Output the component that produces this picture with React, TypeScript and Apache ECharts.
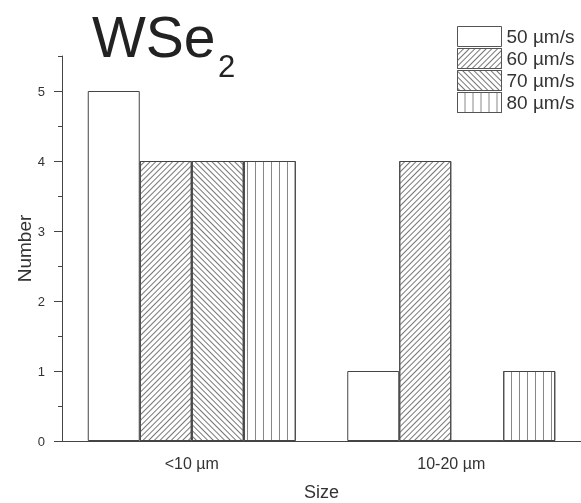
import React, { useEffect, useRef } from "react";
import * as echarts from "echarts";

const categories = ["<10 µm", "10-20 µm"];
const seriesNames = ["50 µm/s", "60 µm/s", "70 µm/s", "80 µm/s"];
const s50 = [5, 1];
const s60 = [4, 4];
const s70 = [4, 0];
const s80 = [4, 1];
const yMajorTicks = [0, 1, 2, 3, 4, 5];
const yMinorTicks = [0.5, 1.5, 2.5, 3.5, 4.5, 5.5];

const FONT = "Liberation Sans, Arial, sans-serif";
const LINE = "#444";

export default function App() {
  const ref = useRef<HTMLDivElement>(null);
  useEffect(() => {
    if (!ref.current) return;
    const chart = echarts.init(ref.current, null, { renderer: "svg" });
    const decals: any[] = [
      null,
      { symbol: "rect", symbolSize: 1, dashArrayX: [1, 0], dashArrayY: [0.8, 2.8], rotation: -Math.PI / 4, color: "#777" },
      { symbol: "rect", symbolSize: 1, dashArrayX: [1, 0], dashArrayY: [0.8, 2.1], rotation: Math.PI / 4, color: "#777" },
      { symbol: "rect", symbolSize: 1, dashArrayX: [1, 0], dashArrayY: [1, 6.6], rotation: Math.PI / 2, color: "#888" },
    ];
    const datas = [s50, s60, s70, s80];
    chart.setOption({
      animation: false,
      textStyle: { fontFamily: FONT },
      grid: { left: 62, right: 0, top: 56, bottom: 62, outerBoundsMode: "none", containLabel: false },
      legend: {
        orient: "vertical",
        left: 457,
        top: 26,
        itemWidth: 44,
        itemHeight: 20,
        itemGap: 1,
        padding: 0,
        icon: "rect",
        itemStyle: { borderWidth: 1, borderColor: "#555" },
        textStyle: { fontSize: 19, color: "#333", fontFamily: FONT },
        data: seriesNames,
      },
      xAxis: {
        type: "category",
        data: categories,
        name: "Size",
        nameLocation: "middle",
        nameGap: 42,
        nameMoveOverlap: false,
        nameTextStyle: { fontSize: 18, color: "#333" },
        axisLine: { lineStyle: { color: LINE, width: 1 } },
        axisTick: { alignWithLabel: true, length: 8, lineStyle: { color: LINE } },
        axisLabel: { fontSize: 16, color: "#333", margin: 14 },
        splitLine: { show: false },
      },
      yAxis: [
        {
          type: "value",
          min: 0,
          max: 5.5,
          name: "Number",
          nameLocation: "middle",
          nameGap: 28,
          nameMoveOverlap: false,
          nameRotate: 90,
          nameTextStyle: { fontSize: 19, color: "#333" },
          axisLine: { show: true, lineStyle: { color: LINE, width: 1 } },
          axisTick: { show: true, length: 8, customValues: yMajorTicks, lineStyle: { color: LINE } },
          axisLabel: { fontSize: 13, color: "#333", margin: 17, customValues: yMajorTicks },
          splitLine: { show: false },
        },
        {
          type: "value",
          min: 0,
          max: 5.5,
          position: "left",
          axisLine: { show: false },
          axisTick: { show: true, length: 4, customValues: yMinorTicks, lineStyle: { color: LINE } },
          axisLabel: { show: false },
          splitLine: { show: false },
        },
      ],
      series: seriesNames.map((name, i) => ({
        name,
        type: "bar",
        data: datas[i],
        barWidth: 52,
        barGap: "0%",
        itemStyle: {
          color: "#fff",
          borderColor: LINE,
          borderWidth: 1,
          decal: decals[i] || undefined,
        },
      })),
      graphic: [
        {
          type: "text",
          x: 92,
          y: 37,
          style: { text: "WSe", fontSize: 57, fontFamily: FONT, fill: "#222", verticalAlign: "middle" },
        },
        {
          type: "text",
          x: 218,
          y: 66,
          style: { text: "2", fontSize: 31, fontFamily: FONT, fill: "#222", verticalAlign: "middle" },
        },
      ],
    });
    return () => chart.dispose();
  }, []);
  return <div ref={ref} style={{ position: "fixed", left: 0, top: 0, width: 581, height: 503 }} />;
}
